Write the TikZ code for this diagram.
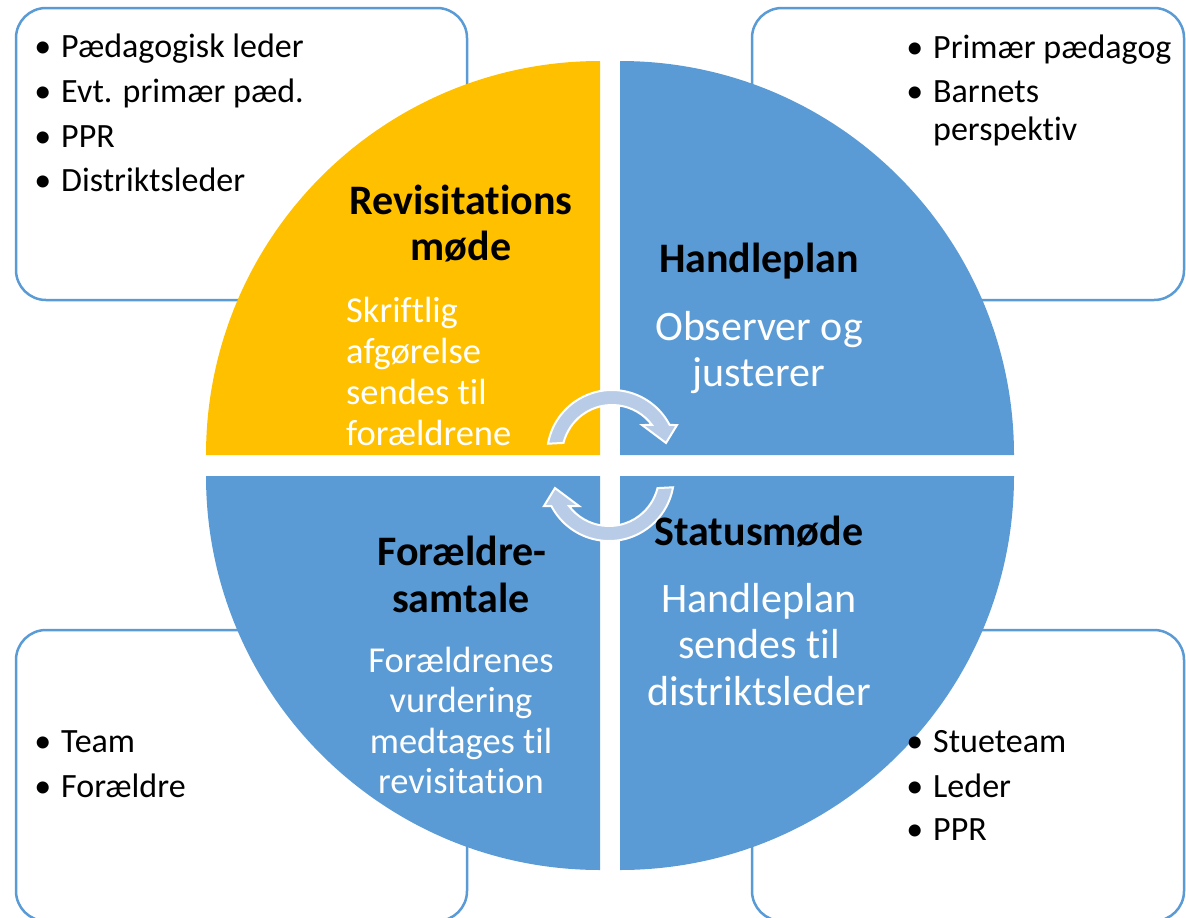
\documentclass[tikz,border=0pt]{standalone}
\usepackage{fontspec}
\setmainfont{Carlito}[Ligatures={NoCommon}]

\definecolor{cycleblue}{HTML}{5B9BD5}
\definecolor{cycleyellow}{HTML}{FFC000}
\definecolor{arrowfill}{HTML}{B8CCE8}

\tikzset{
  box/.style={draw=cycleblue, line width=2.5pt, rounded corners=30pt},
  cyclearrow/.style={fill=arrowfill, draw=white, line width=2pt},
  item/.style={anchor=base west, inner sep=0pt, font=\fontsize{34}{40}\selectfont},
  head/.style={anchor=base, inner sep=0pt, font=\fontsize{42}{46}\selectfont\bfseries},
  bigtxt/.style={anchor=base, inner sep=0pt, text=white, font=\fontsize{42}{46}\selectfont},
  smalltxt/.style={inner sep=0pt, text=white, font=\fontsize{36.5}{41}\selectfont}
}
\newcommand{\bul}{\llap{•\hspace{10pt}}}

\begin{document}
\begin{tikzpicture}[x=1pt,y=1pt]
  \useasboundingbox (0,0) rectangle (1186,-918);

  % boxes behind the circle
  \draw[box] (16,-8)   rectangle (467,-300);
  \draw[box] (752,-8)  rectangle (1184,-300);
  \draw[box] (16,-630) rectangle (467,-921);
  \draw[box] (752,-630) rectangle (1184,-921);

  % quarters
  \fill[cycleyellow] (600,-455) -- (206,-455) arc[start angle=180, end angle=90, radius=394] -- cycle;
  \fill[cycleblue] (620,-455) -- (620,-61) arc[start angle=90, end angle=0, radius=394] -- cycle;
  \fill[cycleblue] (600,-476) -- (600,-870) arc[start angle=270, end angle=180, radius=394] -- cycle;
  \fill[cycleblue] (620,-476) -- (1014,-476) arc[start angle=0, end angle=-90, radius=394] -- cycle;

  % arrows in the middle
  \begin{scope}[shift={(612,-455)}]
    \draw[cyclearrow] (170:65) arc[start angle=170, end angle=27.5, radius=65]
      -- (65,30) -- (54,12) -- (30,30) -- (36.9:50)
      arc[start angle=36.9, end angle=166, radius=50] -- cycle;
  \end{scope}
  \begin{scope}[rotate around={180:(610.5,-465.5)}, shift={(612,-455)}]
    \draw[cyclearrow] (170:65) arc[start angle=170, end angle=27.5, radius=65]
      -- (65,30) -- (54,12) -- (30,30) -- (36.9:50)
      arc[start angle=36.9, end angle=166, radius=50] -- cycle;
  \end{scope}

  % lists
  \node[item] (a1) at (61,-57)  {\bul Pædagogisk leder};
  \node[item] (a2) at (61,-102) {\bul Evt. primær pæd.};
  \node[item] (a3) at (61,-147) {\bul PPR};
  \node[item] (a4) at (61,-191) {\bul Distriktsleder};

  \node[item] (b1) at (933,-58)  {\bul Primær pædagog};
  \node[item] (b2) at (933,-102) {\bul Barnets};
  \node[item] (b3) at (933,-140) {perspektiv};

  \node[item] (c1) at (61,-752) {\bul Team};
  \node[item] (c2) at (61,-797) {\bul Forældre};

  \node[item] (d1) at (933,-752) {\bul Stueteam};
  \node[item] (d2) at (933,-797) {\bul Leder};
  \node[item] (d3) at (933,-840) {\bul PPR};

  % texts in the circle
  \node[head] (r1) at (461,-214) {Revisitations};
  \node[head] (r2) at (461,-260) {møde};
  \begin{scope}[every node/.style={smalltxt, anchor=base west}]
    \node (r3) at (346,-322) {Skriftlig};
    \node (r4) at (346,-363) {afgørelse};
    \node (r5) at (346,-404) {sendes til};
    \node (r6) at (346,-445) {forældrene};
  \end{scope}

  \node[head] (h1) at (759,-272) {Handleplan};
  \node[bigtxt] (h2) at (759,-340) {Observer og};
  \node[bigtxt] (h3) at (759,-386) {justerer};

  \node[head] (f1) at (462,-565) {Forældre-};
  \node[head] (f2) at (461,-612) {samtale};
  \begin{scope}[every node/.style={smalltxt, anchor=base}]
    \node (f3) at (461,-672) {Forældrenes};
    \node (f4) at (461,-712) {vurdering};
    \node (f5) at (461,-753) {medtages til};
    \node (f6) at (461,-793) {revisitation};
  \end{scope}

  \node[head] (s1) at (759,-545) {Statusmøde};
  \node[bigtxt] (s2) at (759,-612) {Handleplan};
  \node[bigtxt] (s3) at (759,-658) {sendes til};
  \node[bigtxt] (s4) at (759,-705) {distriktsleder};

\end{tikzpicture}
\end{document}
